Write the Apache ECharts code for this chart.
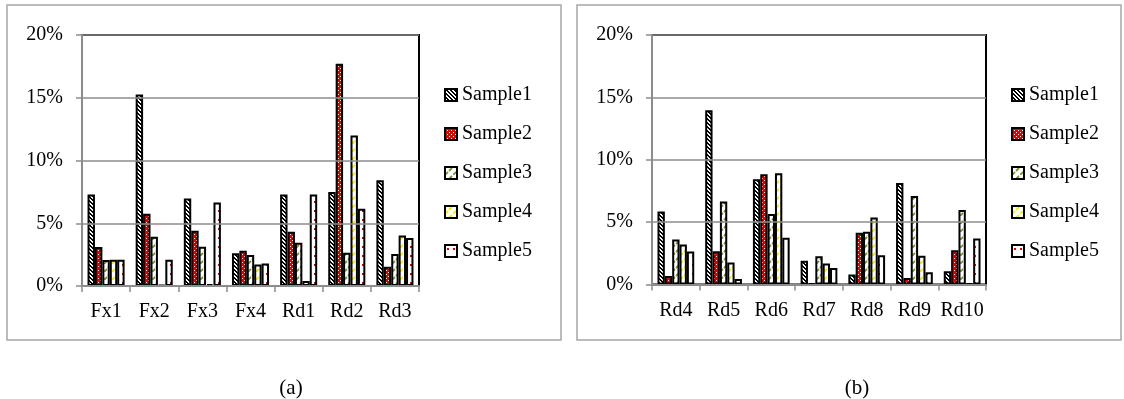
<!DOCTYPE html>
<html>
<head>
<meta charset="utf-8">
<script src="https://cdn.jsdelivr.net/npm/echarts@6/dist/echarts.min.js"></script>
<style>
  html, body { margin: 0; padding: 0; background: #fff; }
  #chart { width: 1124px; height: 399px; }
</style>
</head>
<body>
<div id="chart"></div>
<script>
// category labels
const catsA = ["Fx1", "Fx2", "Fx3", "Fx4", "Rd1", "Rd2", "Rd3"];
const catsB = ["Rd4", "Rd5", "Rd6", "Rd7", "Rd8", "Rd9", "Rd10"];
const sampleNames = ["Sample1", "Sample2", "Sample3", "Sample4", "Sample5"];

// values in percent, chart (a)
const a1 = [7.3, 15.25, 6.97, 2.6, 7.3, 7.5, 8.43];
const a2 = [3.1, 5.75, 4.4, 2.8, 4.32, 17.7, 1.54];
const a3 = [2.07, 3.92, 3.13, 2.47, 3.45, 2.65, 2.55];
const a4 = [2.1, 0.08, 0.15, 1.72, 0.4, 12.0, 4.03];
const a5 = [2.1, 2.1, 6.66, 1.8, 7.3, 6.15, 3.82];

// values in percent, chart (b)
const b1 = [5.85, 13.97, 8.44, 1.9, 0.8, 8.14, 1.07];
const b2 = [0.69, 2.67, 8.84, 0.08, 4.14, 0.53, 2.75];
const b3 = [3.6, 6.65, 5.66, 2.27, 4.22, 7.1, 5.98];
const b4 = [3.2, 1.76, 8.92, 1.68, 5.37, 2.3, 0.08];
const b5 = [2.64, 0.45, 3.74, 1.33, 2.35, 0.98, 3.68];

const yTicks = [0, 5, 10, 15, 20];
const captions = ["(a)", "(b)"];

const FONT = "'Liberation Serif', 'DejaVu Serif', serif";

// build fill patterns on small canvases
function makePattern(w, h, bg, draw) {
  const c = document.createElement("canvas");
  c.width = w;
  c.height = h;
  const ctx = c.getContext("2d");
  ctx.fillStyle = bg;
  ctx.fillRect(0, 0, w, h);
  draw(ctx);
  return { image: c, repeat: "repeat" };
}

function diagDashes(ctx, color, width) {
  // short dashed strokes rising to the right
  ctx.strokeStyle = color;
  ctx.lineWidth = width;
  ctx.beginPath();
  ctx.moveTo(0, 8); ctx.lineTo(3, 5);
  ctx.moveTo(4, 4); ctx.lineTo(7, 1);
  ctx.stroke();
}

const patterns = [
  makePattern(4, 4, "#ffffff", (ctx) => {
    ctx.fillStyle = "#000";
    for (let i = 0; i < 4; i++) {
      ctx.fillRect(i, i, 1, 1);
      ctx.fillRect((i + 1) % 4, i, 1, 1);
    }
  }),
  makePattern(4, 4, "#e00000", (ctx) => {
    ctx.fillStyle = "#ffffff";
    ctx.fillRect(0, 0, 1, 1);
    ctx.fillRect(2, 2, 1, 1);
  }),
  makePattern(8, 8, "#ffffff", (ctx) => diagDashes(ctx, "#779438", 1.8)),
  makePattern(8, 8, "#ffffff", (ctx) => diagDashes(ctx, "#eeee00", 1.8)),
  makePattern(6, 9, "#ffffff", (ctx) => {
    ctx.fillStyle = "#e00000";
    ctx.fillRect(2, 3, 2, 2);
  })
];

const dataA = [a1, a2, a3, a4, a5];
const dataB = [b1, b2, b3, b4, b5];

function axisPair(idx, cats) {
  const x = {
    type: "category",
    gridIndex: idx,
    data: cats,
    axisLine: { lineStyle: { color: "#8c8c8c", width: 2 } },
    axisTick: { show: true, length: 6, lineStyle: { color: "#8c8c8c", width: 1.5 } },
    axisLabel: { color: "#000", fontFamily: FONT, fontSize: 20, margin: 16, interval: 0, hideOverlap: false },
    z: 5
  };
  const y = {
    type: "value",
    gridIndex: idx,
    min: yTicks[0],
    max: yTicks[yTicks.length - 1],
    interval: 5,
    axisLine: { show: true, lineStyle: { color: "#8c8c8c", width: 2 } },
    axisTick: { show: true, length: 6, lineStyle: { color: "#8c8c8c", width: 1.5 } },
    axisLabel: { color: "#000", fontFamily: FONT, fontSize: 20, margin: 19, formatter: (v) => v + "%" },
    splitLine: { lineStyle: { color: "#8c8c8c", width: 1.5 } },
    z: 5
  };
  return [x, y];
}

const [xA, yA] = axisPair(0, catsA);
const [xB, yB] = axisPair(1, catsB);

function buildSeries(data, idx) {
  return data.map((vals, i) => ({
    name: sampleNames[i],
    type: "bar",
    xAxisIndex: idx,
    yAxisIndex: idx,
    data: vals,
    barGap: "0%",
    barCategoryGap: "23%",
    itemStyle: { color: patterns[i], borderColor: "#000", borderWidth: 2 },
    emphasis: { disabled: true },
    z: 3
  }));
}

function legendAt(left) {
  return {
    orient: "vertical",
    left: left,
    top: 85,
    padding: 0,
    icon: "rect",
    itemWidth: 12,
    itemHeight: 12,
    itemGap: 19,
    itemTextGap: 4,
    selectedMode: false,
    itemStyle: { borderColor: "#000", borderWidth: 2 },
    textStyle: { color: "#000", fontFamily: FONT, fontSize: 20, lineHeight: 20 },
    data: sampleNames
  };
}

const chart = echarts.init(document.getElementById("chart"), null, { renderer: "canvas" });

chart.setOption({
  backgroundColor: "#ffffff",
  animation: false,
  grid: [
    { left: 82, top: 35, width: 337, height: 251, show: true, borderColor: "#000", borderWidth: 2, backgroundColor: "transparent" },
    { left: 652, top: 35, width: 334, height: 249.5, show: true, borderColor: "#000", borderWidth: 2, backgroundColor: "transparent" }
  ],
  xAxis: [xA, xB],
  yAxis: [yA, yB],
  legend: [legendAt(444), legendAt(1011)],
  series: buildSeries(dataA, 0).concat(buildSeries(dataB, 1)),
  graphic: [
    { type: "rect", shape: { x: 7, y: 5, width: 554, height: 335 }, style: { fill: null, stroke: "#a6a6a6", lineWidth: 1.5 }, silent: true, z: -1 },
    { type: "rect", shape: { x: 577, y: 5, width: 544, height: 335 }, style: { fill: null, stroke: "#a6a6a6", lineWidth: 1.5 }, silent: true, z: -1 },
    { type: "text", x: 291, y: 388, style: { text: captions[0], fontFamily: FONT, fontSize: 21, fill: "#000", align: "center", verticalAlign: "middle" } },
    { type: "text", x: 857, y: 388, style: { text: captions[1], fontFamily: FONT, fontSize: 21, fill: "#000", align: "center", verticalAlign: "middle" } }
  ]
});
</script>
</body>
</html>
